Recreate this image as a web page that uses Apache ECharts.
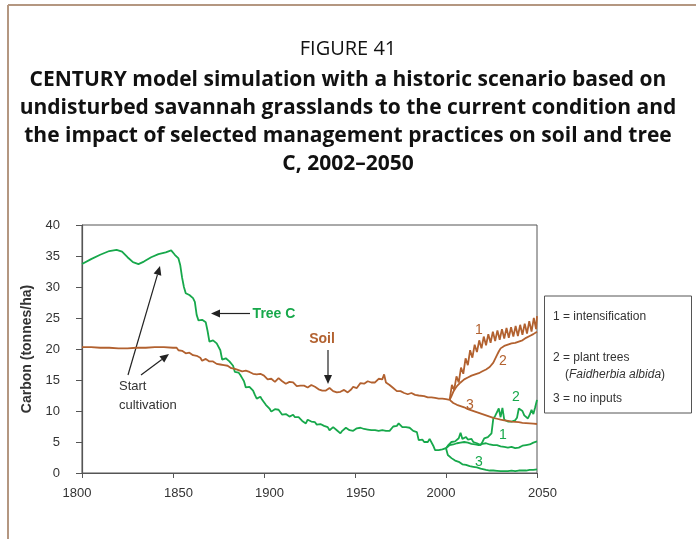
<!DOCTYPE html>
<html>
<head>
<meta charset="utf-8">
<script src="https://cdn.jsdelivr.net/npm/echarts@6/dist/echarts.min.js"></script>
<style>
  html, body { margin: 0; padding: 0; background: #fff; }
  #chart { width: 696px; height: 539px; }
</style>
</head>
<body>
<div id="chart"></div>
<script>
// Axis ticks
const yearTicks = [1800, 1850, 1900, 1950, 2000, 2050];
const carbonTicks = [0, 5, 10, 15, 20, 25, 30, 35, 40];

// Tree carbon, historic run 1800-2000 (tonnes C/ha)
const treeHistoric = [
  [1800,33.7],[1805,34.5],[1810,35.2],[1815,35.8],[1819,36.0],[1822,35.7],[1825,34.8],[1828,34.0],
  [1831,33.7],[1834,34.1],[1838,34.8],[1842,35.3],[1846,35.6],[1849,35.9],[1850,35.9],[1851,35.2],
  [1852,34.9],[1853,34.6],[1854,33.5],[1855,31.5],[1856,30.0],[1857,29.0],[1858,28.8],[1859,28.7],
  [1860,28.6],[1861,28.2],[1862,27.6],[1863,25.5],[1864,24.6],[1865,24.5],[1866,24.7],[1867,24.6],
  [1868,24.3],[1869,22.9],[1870,21.2],[1871,21.3],[1872,21.4],[1873,21.2],[1874,20.9],[1875,20.6],
  [1876,19.8],[1877,18.3],[1878,18.2],[1879,18.5],[1880,18.4],[1881,18.0],[1882,17.7],[1883,17.3],
  [1884,16.3],[1885,16.0],[1886,16.2],[1887,15.8],[1888,15.3],[1889,14.8],[1890,13.8],[1891,13.7],
  [1892,13.9],[1893,13.6],[1894,13.3],[1895,12.6],[1896,12.0],[1897,12.1],[1898,12.3],[1899,11.8],
  [1900,11.4],[1901,11.0],[1902,10.8],[1903,10.4],[1904,9.9],[1905,10.0],[1906,10.3],[1907,10.1],
  [1908,10.2],[1909,9.8],[1910,9.4],[1911,9.2],[1912,9.5],[1913,9.3],[1914,9.1],[1915,9.0],
  [1916,9.4],[1917,9.0],[1918,8.8],[1919,9.0],[1920,9.2],[1921,8.4],[1922,8.2],[1923,8.0],
  [1924,8.6],[1925,8.9],[1926,8.3],[1927,8.0],[1928,8.2],[1929,7.8],[1930,7.6],[1931,7.9],
  [1932,8.0],[1933,7.6],[1934,7.5],[1935,7.4],[1936,6.9],[1937,7.0],[1938,7.4],[1939,7.1],
  [1940,6.9],[1941,6.6],[1942,6.4],[1943,6.8],[1944,7.0],[1945,7.3],[1946,7.0],[1947,6.9],
  [1948,7.1],[1949,6.8],[1950,7.0],[1951,7.2],[1952,7.0],[1953,7.3],[1954,7.0],[1955,7.1],
  [1956,6.8],[1957,7.0],[1958,7.2],[1959,6.9],[1960,7.2],[1961,6.9],[1962,7.0],[1963,6.8],
  [1964,7.0],[1965,6.9],[1966,7.1],[1967,6.8],[1968,7.0],[1969,6.8],[1970,7.0],[1971,7.5],
  [1972,7.8],[1973,7.6],[1974,8.0],[1975,7.7],[1976,7.4],[1977,7.2],[1978,7.4],[1979,7.1],
  [1980,7.3],[1981,7.0],[1982,6.8],[1983,6.8],[1984,6.6],[1985,5.3],[1986,5.6],[1987,5.4],
  [1988,5.0],[1989,5.2],[1990,5.0],[1991,5.5],[1992,5.3],[1993,4.4],[1994,3.7],[1995,3.8],
  [1996,3.7],[1997,3.9],[1998,3.8],[1999,4.0],[2000,4.0]
];

// Tree carbon, 2000-2050 scenarios
const treeIntensification = [
  [2000,4.0],[2002,4.5],[2004,4.6],[2006,4.8],[2008,4.9],[2010,5.0],[2012,4.9],[2014,4.7],
  [2016,4.6],[2018,4.5],[2020,4.7],[2022,4.8],[2024,4.6],[2026,4.5],[2028,4.5],[2030,4.3],
  [2032,4.2],[2034,4.1],[2036,4.2],[2038,4.0],[2040,4.1],[2042,4.4],[2044,4.5],[2046,4.6],
  [2048,4.9],[2050,5.1]
];
const treePlantTrees = [
  [2000,4.0],[2001,4.4],[2002,4.7],[2003,5.0],[2004,4.8],[2005,5.1],[2006,5.0],[2007,5.6],
  [2008,6.5],[2009,5.5],[2010,5.3],[2011,5.8],[2012,5.4],[2013,5.2],[2014,5.5],[2015,5.0],
  [2016,4.9],[2017,4.8],[2018,4.7],[2019,4.5],[2020,5.0],[2021,5.6],[2022,5.5],[2023,5.8],
  [2024,6.0],[2025,6.4],[2026,8.8],[2027,9.2],[2028,9.4],[2029,10.4],[2030,9.0],[2031,10.5],
  [2032,8.6],[2033,8.4],[2034,8.3],[2035,8.5],[2036,8.3],[2037,8.4],[2038,8.5],[2039,8.9],
  [2040,10.4],[2041,10.2],[2042,10.0],[2043,9.3],[2044,9.0],[2045,8.8],[2046,9.4],[2047,10.2],
  [2048,9.5],[2049,10.6],[2050,11.8]
];
const treeNoInputs = [
  [2000,4.0],[2001,2.9],[2002,2.6],[2003,2.4],[2004,2.1],[2005,2.0],[2006,1.7],[2007,1.8],
  [2008,1.6],[2009,1.4],[2010,1.3],[2011,1.3],[2012,1.2],[2013,1.1],[2014,1.1],[2015,1.0],
  [2016,0.9],[2017,0.9],[2018,0.8],[2019,0.7],[2020,0.6],[2022,0.5],[2024,0.4],[2026,0.4],
  [2028,0.35],[2030,0.3],[2032,0.3],[2034,0.3],[2036,0.4],[2038,0.3],[2040,0.4],[2042,0.4],
  [2044,0.4],[2046,0.5],[2048,0.5],[2050,0.6]
];

// Soil carbon, historic run 1800-2002
const soilHistoric = [
  [1800,20.3],[1805,20.3],[1810,20.2],[1815,20.2],[1820,20.1],[1825,20.1],[1830,20.2],[1835,20.2],
  [1840,20.3],[1845,20.3],[1850,20.2],[1851,20.5],[1852,20.2],[1853,19.8],[1854,19.6],[1855,19.7],
  [1856,19.5],[1857,19.3],[1858,19.2],[1859,19.4],[1860,19.2],[1861,19.0],[1862,19.1],[1863,18.9],
  [1864,18.8],[1865,18.6],[1866,18.1],[1867,18.2],[1868,18.4],[1869,18.2],[1870,18.0],[1871,17.8],
  [1872,18.0],[1873,17.8],[1874,17.6],[1875,17.4],[1876,17.5],[1877,17.6],[1878,17.4],[1879,17.2],
  [1880,17.3],[1881,17.1],[1882,16.9],[1883,17.0],[1884,16.8],[1885,16.7],[1886,16.6],[1887,16.7],
  [1888,16.4],[1889,16.3],[1890,16.5],[1891,16.4],[1892,16.3],[1893,16.2],[1894,16.0],[1895,16.1],
  [1896,15.9],[1897,15.8],[1898,16.0],[1899,16.1],[1900,15.7],[1901,15.4],[1902,15.1],[1903,15.0],
  [1904,15.2],[1905,14.9],[1906,14.7],[1907,15.0],[1908,15.3],[1909,15.0],[1910,14.8],[1911,14.6],
  [1912,14.4],[1913,14.5],[1914,14.7],[1915,14.8],[1916,14.6],[1917,14.3],[1918,14.0],[1919,13.9],
  [1920,14.1],[1921,14.3],[1922,14.1],[1923,13.9],[1924,13.8],[1925,14.0],[1926,14.2],[1927,14.1],
  [1928,13.9],[1929,13.7],[1930,13.5],[1931,13.4],[1932,13.3],[1933,13.1],[1934,13.3],[1935,13.5],
  [1936,13.7],[1937,13.4],[1938,13.2],[1939,13.1],[1940,13.0],[1941,12.9],[1942,13.1],[1943,13.3],
  [1944,13.4],[1945,13.3],[1946,13.0],[1947,13.2],[1948,13.5],[1949,13.9],[1950,13.6],[1951,13.7],
  [1952,14.1],[1953,14.5],[1954,14.2],[1955,14.4],[1956,14.6],[1957,14.8],[1958,15.0],[1959,14.6],
  [1960,14.4],[1961,14.6],[1962,14.9],[1963,15.2],[1964,14.9],[1965,15.1],[1966,15.9],[1967,14.6],
  [1968,14.4],[1969,14.2],[1970,13.9],[1971,13.7],[1972,13.4],[1973,13.2],[1974,13.1],[1975,13.2],
  [1976,13.0],[1977,12.9],[1978,12.9],[1979,12.7],[1980,12.8],[1981,12.9],[1982,12.7],[1983,12.6],
  [1984,12.7],[1985,12.5],[1986,12.4],[1988,12.4],[1990,12.2],[1992,12.2],[1994,12.1],[1996,12.0],
  [1998,12.0],[2000,11.9],[2002,11.8]
];

// Soil carbon, 2002-2050 scenarios
const soilIntensification = [
  [2002.0,11.8],[2003.25,14.2],[2004.5,13.4],[2005.75,15.6],[2007.0,14.6],[2008.25,17.0],
  [2009.5,16.0],[2010.75,18.5],[2012.0,17.4],[2013.25,19.8],[2014.5,18.6],[2015.75,20.7],
  [2017.0,19.5],[2018.25,21.4],[2019.5,20.1],[2020.75,22.0],[2022.0,20.6],[2023.25,22.4],
  [2024.5,21.0],[2025.75,22.8],[2027.0,21.3],[2028.25,23.0],[2029.5,21.5],[2030.75,23.2],
  [2032.0,21.7],[2033.25,23.4],[2034.5,21.8],[2035.75,23.5],[2037.0,22.0],[2038.25,23.7],
  [2039.5,22.1],[2040.75,23.9],[2042.0,22.3],[2043.25,24.1],[2044.5,22.5],[2045.75,24.5],
  [2047.0,22.8],[2048.25,25.0],[2049.5,23.2],[2050.0,25.3]
];
const soilPlantTrees = [
  [2002,11.8],[2003,12.4],[2004,13.1],[2005,13.6],[2006,14.0],[2007,14.3],[2008,14.6],[2009,14.9],
  [2010,15.1],[2012,15.4],[2014,15.7],[2016,15.9],[2018,16.1],[2020,16.4],[2022,16.7],[2024,17.1],
  [2025,17.4],[2026,17.8],[2027,18.4],[2028,19.0],[2029,19.6],[2030,20.1],[2031,20.4],[2032,20.5],
  [2034,20.7],[2036,20.9],[2038,21.0],[2040,21.2],[2042,21.4],[2044,21.8],[2046,22.1],[2048,22.4],
  [2050,22.8]
];
const soilNoInputs = [
  [2002,11.8],[2004,11.3],[2006,11.0],[2008,10.8],[2010,10.6],[2012,10.3],[2014,10.1],[2016,9.9],
  [2018,9.7],[2020,9.5],[2022,9.3],[2024,9.1],[2026,8.9],[2028,8.75],[2030,8.6],[2032,8.5],
  [2034,8.4],[2036,8.3],[2038,8.25],[2040,8.2],[2042,8.1],[2044,8.05],[2046,8.0],[2048,7.95],
  [2050,7.9]
];

const GREEN = '#17a84b';
const BROWN = '#b2612f';
const INK = '#333333';
const FONT = '"Liberation Sans", Arial, sans-serif';
const TITLE_FONT = '"Open Sans", "Noto Sans", sans-serif';

function lineSeries(name, data, color) {
  return {
    name, type: 'line', data, color,
    showSymbol: false, symbol: 'none', silent: true,
    lineStyle: { color, width: 1.8 },
    animation: false
  };
}

// Arrow made of a shaft and a filled head
function arrow(x1, y1, x2, y2) {
  const ang = Math.atan2(y2 - y1, x2 - x1);
  const len = 9, half = 4;
  const bx = x2 - len * Math.cos(ang), by = y2 - len * Math.sin(ang);
  const px = -Math.sin(ang) * half, py = Math.cos(ang) * half;
  return [
    { type: 'line', shape: { x1, y1, x2: bx, y2: by }, style: { stroke: '#222', lineWidth: 1.2 } },
    { type: 'polygon', shape: { points: [[x2, y2], [bx + px, by + py], [bx - px, by - py]] }, style: { fill: '#222' } }
  ];
}

function label(text, x, y, color, extra) {
  return {
    type: 'text', x, y,
    style: Object.assign({ text, fill: color, font: '14px ' + FONT, textVerticalAlign: 'middle', textAlign: 'center' }, extra || {})
  };
}

const chart = echarts.init(document.getElementById('chart'), null, { renderer: 'canvas' });

const titleLines = [
  'CENTURY model simulation with a historic scenario based on',
  'undisturbed savannah grasslands to the current condition and',
  'the impact of selected management practices on soil and tree',
  'C, 2002\u20132050'
];

// year labels sit slightly off their ticks: the outer-left one to the left, the rest to the right
const yearLabelRich = {
  l: { padding: [0, 10, 0, 0], fontSize: 13, fontFamily: FONT, color: INK },
  r: { padding: [0, 0, 0, 11], fontSize: 13, fontFamily: FONT, color: INK },
  k: { padding: [0, 10, 0, 0], fontSize: 13, fontFamily: FONT, color: INK }
};
function yearLabel(v) {
  if (v === 1800 || v === 2000) return '{l|' + v + '}';
  return '{r|' + v + '}';
}

chart.setOption({
  animation: false,
  backgroundColor: '#fff',
  title: [
    { text: 'FIGURE 41', left: 348, top: 38, textAlign: 'center', padding: 0,
      textStyle: { fontFamily: TITLE_FONT, fontWeight: 'normal', fontSize: 20, lineHeight: 22, color: '#111' } },
    { text: titleLines.join('\n'), left: 348, top: 66, textAlign: 'center', padding: 0,
      textStyle: { fontFamily: TITLE_FONT, fontWeight: 'bold', fontSize: 21, lineHeight: 28, color: '#111' } }
  ],
  grid: { left: 82, right: 159, top: 225, bottom: 66, show: true, borderColor: '#555', borderWidth: 1 },
  xAxis: {
    type: 'value', min: yearTicks[0], max: yearTicks[yearTicks.length - 1], interval: 50,
    axisLine: { show: true, lineStyle: { color: '#555', width: 1.2 } },
    axisTick: { show: true, length: 5, lineStyle: { color: '#555' } },
    splitLine: { show: false },
    axisLabel: { margin: 14, color: INK, fontSize: 13, fontFamily: FONT, formatter: yearLabel, rich: yearLabelRich }
  },
  yAxis: {
    type: 'value', min: carbonTicks[0], max: carbonTicks[carbonTicks.length - 1], interval: 5,
    name: 'Carbon (tonnes/ha)', nameLocation: 'middle', nameGap: 48, nameRotate: 90,
    nameTextStyle: { fontFamily: FONT, fontWeight: 'bold', fontSize: 14, color: INK },
    axisLine: { show: true, lineStyle: { color: '#555', width: 1.2 } },
    axisTick: { show: true, length: 6, lineStyle: { color: '#555' } },
    splitLine: { show: false },
    axisLabel: { margin: 22, color: INK, fontSize: 13, fontFamily: FONT }
  },
  series: [
    lineSeries('Tree C', treeHistoric, GREEN),
    lineSeries('Tree C 1', treeIntensification, GREEN),
    lineSeries('Tree C 2', treePlantTrees, GREEN),
    lineSeries('Tree C 3', treeNoInputs, GREEN),
    lineSeries('Soil', soilHistoric, BROWN),
    lineSeries('Soil 1', soilIntensification, BROWN),
    lineSeries('Soil 2', soilPlantTrees, BROWN),
    lineSeries('Soil 3', soilNoInputs, BROWN)
  ],
  graphic: [
    // page frame
    { type: 'line', shape: { x1: 8, y1: 5, x2: 696, y2: 5 }, style: { stroke: '#b49781', lineWidth: 2 } },
    { type: 'line', shape: { x1: 8, y1: 5, x2: 8, y2: 539 }, style: { stroke: '#b49781', lineWidth: 2 } },

    // annotations
    ...arrow(250, 313.5, 211, 313.5),
    label('Tree C', 274, 314, GREEN, { font: 'bold 14px ' + FONT }),
    label('Soil', 322, 339, BROWN, { font: 'bold 14px ' + FONT }),
    ...arrow(328, 350, 328, 384),
    { type: 'text', x: 119, y: 377, style: { text: 'Start\ncultivation', fill: INK, font: '13px ' + FONT, lineHeight: 19 } },
    ...arrow(128, 375, 160, 266),
    ...arrow(141, 375, 169, 354),

    // scenario numbers
    label('1', 479, 330, BROWN),
    label('2', 503, 361, BROWN),
    label('3', 470, 405, BROWN),
    label('2', 516, 397, GREEN),
    label('1', 503, 435, GREEN),
    label('3', 479, 462, GREEN),

    // key box
    { type: 'rect', shape: { x: 544.5, y: 296, width: 147, height: 117 }, style: { fill: '#fff', stroke: '#555', lineWidth: 1 } },
    { type: 'text', x: 553, y: 317, style: { text: '1 = intensification', fill: INK, font: '12px ' + FONT, textVerticalAlign: 'middle' } },
    { type: 'text', x: 553, y: 358, style: { text: '2 = plant trees', fill: INK, font: '12px ' + FONT, textVerticalAlign: 'middle' } },
    { type: 'text', x: 565, y: 375, style: {
        text: '({i|Faidherbia albida})', fill: INK, font: '12px ' + FONT, textVerticalAlign: 'middle',
        rich: { i: { fontStyle: 'italic', fontSize: 12, fontFamily: FONT, fill: INK } } } },
    { type: 'text', x: 553, y: 399, style: { text: '3 = no inputs', fill: INK, font: '12px ' + FONT, textVerticalAlign: 'middle' } }
  ]
});
</script>
</body>
</html>
